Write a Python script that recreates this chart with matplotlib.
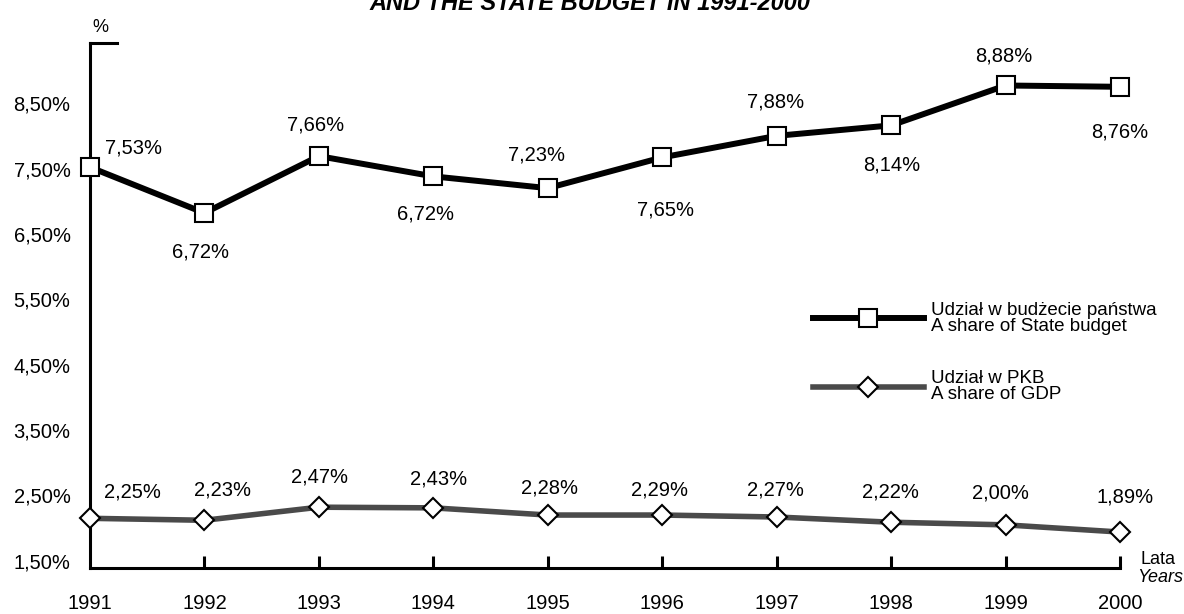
import matplotlib
matplotlib.use("Agg")
import matplotlib.pyplot as plt

plt.rcParams['font.family'] = ['Liberation Sans', 'DejaVu Sans']

years = [1991, 1992, 1993, 1994, 1995, 1996, 1997, 1998, 1999, 2000]

# positions as plotted in the picture
budget_share = [7.52, 6.82, 7.69, 7.38, 7.20, 7.67, 8.00, 8.16, 8.77, 8.75]
gdp_share = [2.15, 2.12, 2.32, 2.31, 2.20, 2.20, 2.17, 2.09, 2.05, 1.94]

# the value labels as printed on the chart
budget_labels = ['7,53%', '6,72%', '7,66%', '6,72%', '7,23%', '7,65%', '7,88%', '8,14%', '8,88%', '8,76%']
gdp_labels = ['2,25%', '2,23%', '2,47%', '2,43%', '2,28%', '2,29%', '2,27%', '2,22%', '2,00%', '1,89%']

yticks = [1.5, 2.5, 3.5, 4.5, 5.5, 6.5, 7.5, 8.5]
ytick_labels = ['1,50%', '2,50%', '3,50%', '4,50%', '5,50%', '6,50%', '7,50%', '8,50%']

# label offsets in pixels (dx, dy), dy positive = up
budget_off = [(43, 19), (-4, -39), (-3, 31), (-8, -38), (-11, 33), (3, -53), (-1, 34), (1, -40), (-2, 29), (0, -45)]
gdp_off = [(42, 26), (18, 30), (1, 30), (5, 29), (2, 27), (-3, 25), (-1, 27), (-1, 30), (-5, 32), (5, 35)]

fig = plt.figure(figsize=(11.84, 6.14), dpi=100)
ax = fig.add_axes([90/1184, 46/614, 1030/1184, 525/614])
ax.set_xlim(1991, 2000)
ax.set_ylim(1.39, 9.42)

ax.plot(years, budget_share, color='black', lw=4.3, marker='s', ms=12.5,
        mfc='white', mec='black', mew=1.5, clip_on=False, zorder=5)
ax.plot(years, gdp_share, color='#4a4a4a', lw=4.0, marker='D', ms=10.5,
        mfc='white', mec='black', mew=1.5, clip_on=False, zorder=5)

px = 72 / 100
for x, y, t, (dx, dy) in zip(years, budget_share, budget_labels, budget_off):
    ax.annotate(t, (x, y), xytext=(dx*px, dy*px), textcoords='offset points',
                ha='center', va='center', fontsize=14.5, annotation_clip=False)
for x, y, t, (dx, dy) in zip(years, gdp_share, gdp_labels, gdp_off):
    ax.annotate(t, (x, y), xytext=(dx*px, dy*px), textcoords='offset points',
                ha='center', va='center', fontsize=14.5, annotation_clip=False)

ax.spines['right'].set_visible(False)
ax.spines['top'].set_bounds(1991, 1991.24)
for s in ['left', 'bottom', 'top']:
    ax.spines[s].set_linewidth(2.2)

ax.set_xticks(years)
ax.set_xticklabels([str(y) for y in years], fontsize=14.5)
ax.set_yticks(yticks)
ax.set_yticklabels(ytick_labels, fontsize=14.5)
ax.tick_params(axis='x', direction='in', length=8.6, width=2.2, pad=19)
ax.tick_params(axis='y', length=0, pad=14)
ax.xaxis.get_major_ticks()[0].tick1line.set_visible(False)

leg = ax.legend(['Udział w budżecie państwa\nA share of State budget',
                 'Udział w PKB\nA share of GDP'],
                loc='upper left', bbox_to_anchor=(813/1184, 1 - 302/614),
                bbox_transform=fig.transFigure, frameon=False, fontsize=13.5,
                handlelength=5.9, handletextpad=0.4, borderpad=0, borderaxespad=0,
                labelspacing=1.9, numpoints=1)
for t in leg.get_texts():
    t.set_linespacing(0.9)

fig.text(100/1184, 1 - 27/614, '%', fontsize=13, ha='center', va='center')
fig.text(1140/1184, 1 - 559/614, 'Lata', fontsize=13, ha='left', va='center')
fig.text(1137/1184, 1 - 577/614, 'Years', fontsize=13, ha='left', va='center', style='italic')
fig.text(590/1184, 1 - 10/614, 'AND THE STATE BUDGET IN 1991-2000', fontsize=17,
         ha='center', va='baseline', weight='bold', style='italic')

fig.savefig('out.png', dpi=100)
